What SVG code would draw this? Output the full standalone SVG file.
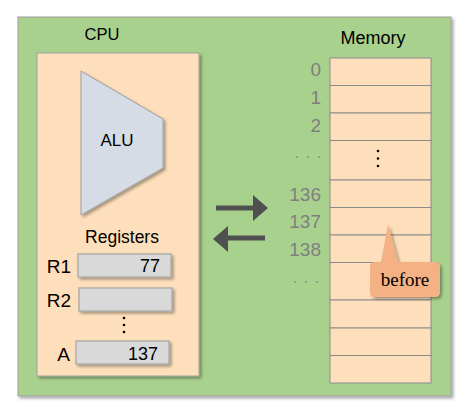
<svg xmlns="http://www.w3.org/2000/svg" width="466" height="407" viewBox="0 0 466 407">
<defs>
<filter id="sh" x="-10%" y="-10%" width="130%" height="130%">
<feDropShadow dx="2" dy="2" stdDeviation="1.5" flood-color="#000" flood-opacity="0.35"/>
</filter>
<style>
.t{font-family:"Liberation Sans",Arial,sans-serif;fill:#000}
.lab{font-family:"Liberation Sans",Arial,sans-serif;fill:#7f7f7f;font-size:19px;text-anchor:end}
.cell{fill:#fedfbb;stroke:#8c8c8c;stroke-width:1}
.reg{fill:#d9d9d9;stroke:#a6a6a6;stroke-width:1.2;filter:url(#sh)}
.arr{fill:#505050}
</style>
</defs>
<rect width="466" height="407" fill="#fff"/>
<g id="board">
<rect x="18" y="17" width="433" height="379" fill="#a9d18e" stroke="#a0a0a0" stroke-width="1" filter="url(#sh)"/>
</g>
<g id="cpu">
<text class="t" x="102" y="40" font-size="16.5" text-anchor="middle">CPU</text>
<rect x="37" y="53" width="162" height="323" fill="#fedfbb" stroke="#a0a0a0" stroke-width="1" filter="url(#sh)"/>
</g>
<g id="alu">
<polygon points="81,71 163,119 163,168 81,215" fill="#d6dce5" stroke="#a0a0a0" stroke-width="1" filter="url(#sh)"/>
<text class="t" x="117" y="145.5" font-size="17" text-anchor="middle">ALU</text>
</g>
<g id="registers">
<text class="t" x="122" y="243" font-size="17.5" text-anchor="middle">Registers</text>
</g>
<g id="r1">
<text class="t" x="71" y="272.5" font-size="19" text-anchor="end">R1</text>
<rect class="reg" x="78" y="254" width="93" height="23"/>
<text class="t" x="160" y="272" font-size="18" text-anchor="end">77</text>
</g>
<g id="r2">
<text class="t" x="71" y="306.5" font-size="19" text-anchor="end">R2</text>
<rect class="reg" x="79" y="288" width="93" height="23"/>
</g>
<g id="regdots">
<circle cx="124" cy="318" r="1.3" fill="#000"/>
<circle cx="124" cy="325" r="1.3" fill="#000"/>
<circle cx="124" cy="332" r="1.3" fill="#000"/>
</g>
<g id="ra">
<text class="t" x="70" y="360.5" font-size="19" text-anchor="end">A</text>
<rect class="reg" x="76" y="341" width="93" height="23"/>
<text class="t" x="158" y="360" font-size="18" text-anchor="end">137</text>
</g>
<g id="memory">
<text class="t" x="373" y="44" font-size="18" text-anchor="middle">Memory</text>
<rect class="cell" x="330" y="58" width="101" height="27.5"/>
<rect class="cell" x="330" y="85.5" width="101" height="27.5"/>
<rect class="cell" x="330" y="113" width="101" height="27.5"/>
<rect class="cell" x="330" y="140.5" width="101" height="39.5"/>
<rect class="cell" x="330" y="180" width="101" height="27.5"/>
<rect class="cell" x="330" y="207.5" width="101" height="27.5"/>
<rect class="cell" x="330" y="235" width="101" height="27.5"/>
<rect class="cell" x="330" y="262.5" width="101" height="37.5"/>
<rect class="cell" x="330" y="300" width="101" height="28"/>
<rect class="cell" x="330" y="328" width="101" height="27.5"/>
<rect class="cell" x="330" y="355.5" width="101" height="27.5"/>
<circle cx="378" cy="151" r="1.3" fill="#000"/>
<circle cx="378" cy="158.5" r="1.3" fill="#000"/>
<circle cx="378" cy="166" r="1.3" fill="#000"/>
<text class="lab" x="321" y="76">0</text>
<text class="lab" x="321" y="103.5">1</text>
<text class="lab" x="321" y="132">2</text>
<text class="lab" x="321" y="201">136</text>
<text class="lab" x="321" y="228">137</text>
<text class="lab" x="321" y="256">138</text>
<g fill="#8f8f8f">
<circle cx="297" cy="157" r="1.1"/><circle cx="308" cy="157" r="1.1"/><circle cx="319" cy="157" r="1.1"/>
<circle cx="295" cy="282" r="1.1"/><circle cx="306" cy="282" r="1.1"/><circle cx="317" cy="282" r="1.1"/>
</g>
</g>
<g id="callout">
<path d="M375,262 L381,262 L388,224 L398,262 L435,262 Q440,262 440,267 L440,292 Q440,297 435,297 L375,297 Q370,297 370,292 L370,267 Q370,262 375,262 Z" fill="#f4b183" filter="url(#sh)"/>
<text x="405" y="286" font-family="'Liberation Serif','Times New Roman',serif" font-size="19" text-anchor="middle" fill="#000">before</text>
</g>
<g id="connectors">
<polygon class="arr" points="216,205.5 253,205.5 253,195 268,208 253,221 253,210.5 216,210.5"/>
<polygon class="arr" points="265,235.5 228,235.5 228,226 213,239 228,252 228,240.5 265,240.5"/>
</g>
</svg>
